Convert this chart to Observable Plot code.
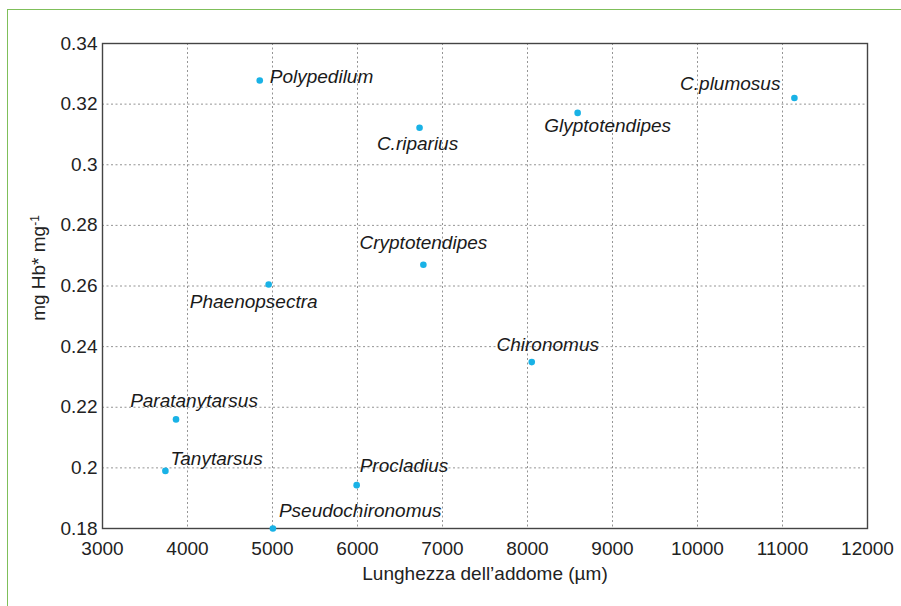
<!DOCTYPE html>
<html>
<head>
<meta charset="utf-8">
<script src="https://cdn.jsdelivr.net/npm/d3@7"></script>
<script src="https://cdn.jsdelivr.net/npm/@observablehq/plot@0.6"></script>
<style>
  html, body { margin: 0; padding: 0; background: #fff; }
  #wrap { position: relative; width: 901px; height: 606px; overflow: hidden; }
  #wrap svg { position: absolute; left: 0; top: 0; }
  .edgeTop { position: absolute; left: 7px; top: 9px; width: 894px; height: 0; border-top: 1.5px solid #7fbf5a; }
  .edgeLeft { position: absolute; left: 7px; top: 9px; width: 0; height: 597px; border-left: 1.5px solid #7fbf5a; }
</style>
</head>
<body>
<div id="wrap"><div class="edgeTop"></div><div class="edgeLeft"></div></div>
<script>
// ---- data ----
const species = ["Polypedilum", "C.riparius", "Glyptotendipes", "C.plumosus", "Cryptotendipes", "Phaenopsectra", "Chironomus", "Paratanytarsus", "Tanytarsus", "Procladius", "Pseudochironomus"];
const abdomenLength = [4850, 6730, 8590, 11140, 6775, 4955, 8050, 3865, 3740, 5990, 5005];
const hbContent = [0.3278, 0.3122, 0.3171, 0.3220, 0.2670, 0.2605, 0.2349, 0.2160, 0.1990, 0.1943, 0.1800];
const xTicks = [3000, 4000, 5000, 6000, 7000, 8000, 9000, 10000, 11000, 12000];
const yTicks = [0.18, 0.20, 0.22, 0.24, 0.26, 0.28, 0.30, 0.32, 0.34];
const xLabel = "Lunghezza dell\u2019addome (\u00b5m)";
const yLabel = "mg Hb* mg-1";

// ---- label layout (anchor, dx, dy) ----
const labelLayout = [
  ["start", 10, -4], ["middle", -2, 16], ["middle", 30, 13], ["end", -14, -14],
  ["middle", 0, -22], ["middle", -15, 17], ["middle", 16, -17], ["middle", 18, -18],
  ["start", 5, -12], ["start", 3, -19], ["start", 6, -18]
];

const data = species.map((s, i) => ({ name: s, x: abdomenLength[i], y: hbContent[i] }));
const FONT = "'Liberation Sans', Arial, Helvetica, sans-serif";
const FS = 19;

const labelMarks = data.map((d, i) => Plot.text([d], {
  x: "x", y: "y", text: "name",
  textAnchor: labelLayout[i][0], dx: labelLayout[i][1], dy: labelLayout[i][2],
  fontStyle: "italic", fontSize: FS, fill: "#1a1a1a"
}));

const chart = Plot.plot({
  width: 901, height: 606,
  marginLeft: 102, marginRight: 34, marginTop: 43, marginBottom: 78,
  style: { fontFamily: FONT, fontSize: FS + "px", color: "#222", background: "transparent" },
  x: { domain: [3000, 12000] },
  y: { domain: [0.18, 0.34] },
  marks: [
    Plot.gridX(xTicks, { stroke: "#888", strokeOpacity: 1, strokeDasharray: "2,2.5", strokeWidth: 0.9 }),
    Plot.gridY(yTicks, { stroke: "#888", strokeOpacity: 1, strokeDasharray: "2,2.5", strokeWidth: 0.9 }),
    Plot.axisX(xTicks, { tickSize: 0, tickPadding: 13, label: null, fontSize: FS, tickFormat: d => String(d) }),
    Plot.axisY(yTicks, { tickSize: 0, tickPadding: 5, label: null, fontSize: FS, tickFormat: d => String(+d.toFixed(2)) }),
    Plot.frame({ stroke: "#444", strokeWidth: 1.4 }),
    Plot.dot(data, { x: "x", y: "y", r: 3.3, fill: "#19b2e6", stroke: "none" }),
    ...labelMarks,
    Plot.text([xLabel], { frameAnchor: "bottom", dy: 51, text: d => d, fontSize: FS, fill: "#222" }),
    Plot.text([yLabel], { frameAnchor: "left", textAnchor: "middle", dx: -64, dy: -18, rotate: -90, text: d => d, fontSize: FS, fill: "#222" })
  ]
});
document.getElementById("wrap").prepend(chart);

// superscript for the y label
d3.select(chart).selectAll("text").each(function () {
  if (this.textContent === yLabel) {
    const t = d3.select(this);
    t.text(null);
    t.append("tspan").text("mg Hb* mg");
    t.append("tspan").attr("dy", "-0.5em").attr("font-size", "12px").text("-1");
  }
});
</script>
</body>
</html>
